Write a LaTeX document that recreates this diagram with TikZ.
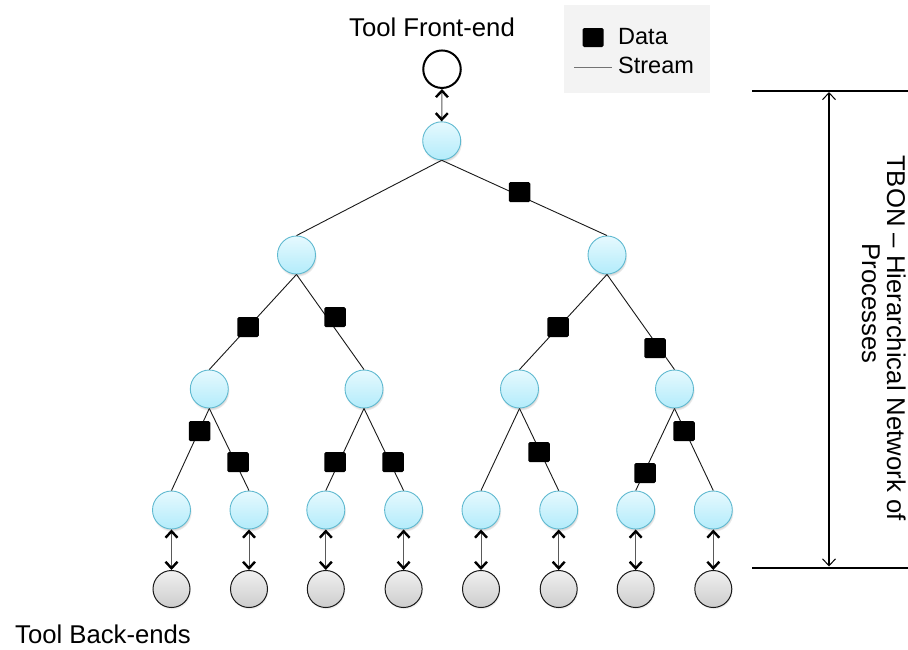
\documentclass[tikz,border=0pt]{standalone}
\usepackage{fontspec}
\setmainfont{Liberation Sans}
\usetikzlibrary{arrows.meta,shapes.geometric,shadows}

\definecolor{proctop}{HTML}{E6F9FE}
\definecolor{procbot}{HTML}{B3ECFB}
\definecolor{procedge}{HTML}{5FB9D0}
\definecolor{betop}{HTML}{F0F0F0}
\definecolor{bebot}{HTML}{CDCDCD}
\definecolor{legendbg}{HTML}{F3F3F3}

\tikzset{
  proc/.style={circle, minimum size=38pt, inner sep=0pt, draw=procedge,
    line width=0.9pt, top color=proctop, bottom color=procbot,
    circular drop shadow={shadow xshift=0.6pt, shadow yshift=-2pt,
      shadow scale=1.04, opacity=0.35}},
  backend/.style={circle, minimum size=37pt, inner sep=0pt, draw=black!90,
    line width=1pt, top color=betop, bottom color=bebot,
    circular drop shadow={shadow xshift=0.5pt, shadow yshift=-1.5pt,
      shadow scale=1.03, opacity=0.25}},
  frontend/.style={circle, minimum size=37.5pt, inner sep=0pt, draw=black,
    line width=2pt, fill=white},
  packet/.style={rectangle, minimum width=21.5pt, minimum height=20pt,
    inner sep=0pt, fill=black, rounded corners=1.5pt},
  stream/.style={draw=black!90, line width=0.9pt},
  link/.style={draw=black!65, line width=1pt,
    >={Straight Barb[color=black, length=6.5pt, width=12pt, line width=2.4pt]}, <->},
  span/.style={draw=black, line width=2pt,
    >={Straight Barb[color=black, length=7pt, width=13pt, line width=1pt]}, <->},
  rule/.style={draw=black, line width=2pt},
  lbltext/.style={font=\fontsize{25.7pt}{30pt}\selectfont, inner sep=0pt},
  legtext/.style={font=\fontsize{23.5pt}{28pt}\selectfont, inner sep=0pt, anchor=base west},
}

\begin{document}
\begin{tikzpicture}[x=1pt, y=-1pt]
\useasboundingbox (0,0) rectangle (908,649);

% legend
\node[fill=legendbg, minimum width=146pt, minimum height=88pt, inner sep=0pt,
      anchor=north west] (legend) at (564,5) {};
\node[packet, minimum width=21pt, minimum height=19pt] (legpacket) at (593,37.5) {};
\node[legtext] (legdata) at (618,44) {Data};
\node[legtext] (legstream) at (618,73) {Stream};
\coordinate (legA) at (574,67);
\coordinate (legB) at (612,67);
\draw[draw=black!55, line width=1pt] (legA) -- (legB);

% front-end and root
\node[lbltext, anchor=base] (felabel) at (432,36) {Tool Front-end};
\node[frontend] (fe) at (442,69.2) {};
\node[proc] (r) at (441.7,140.8) {};

% internal levels
\node[proc] (a) at (296.5,255) {};
\node[proc] (b) at (607,255) {};
\node[proc] (aa) at (209.3,389) {};
\node[proc] (ab) at (364,389) {};
\node[proc] (ba) at (519.5,389) {};
\node[proc] (bb) at (674.5,389) {};

% leaf processes and back-ends
\foreach \i/\x in {1/171.5, 2/249, 3/325.8, 4/403.6, 5/481, 6/558.7, 7/635.7, 8/713.3} {
  \node[proc] (l\i) at (\x,510) {};
  \node[backend] (be\i) at (\x,589) {};
}

\node[lbltext, anchor=base] (belabel) at (103,643) {Tool Back-ends};

% tree streams
\draw[stream] (r.south) -- (a.north);
\draw[stream] (r.south) -- (b.north);
\draw[stream] (a.south) -- (aa.north);
\draw[stream] (a.south) -- (ab.north);
\draw[stream] (b.south) -- (ba.north);
\draw[stream] (b.south) -- (bb.north);
\draw[stream] (aa.south) -- (l1.north);
\draw[stream] (aa.south) -- (l2.north);
\draw[stream] (ab.south) -- (l3.north);
\draw[stream] (ab.south) -- (l4.north);
\draw[stream] (ba.south) -- (l5.north);
\draw[stream] (ba.south) -- (l6.north);
\draw[stream] (bb.south) -- (l7.north);
\draw[stream] (bb.south) -- (l8.north);

% bidirectional links
\draw[link] (fe.south) -- (r.north);
\foreach \i in {1,...,8} {
  \draw[link] (l\i.south) -- (be\i.north);
}

% data packets on the streams
\node[packet] (p0) at (519.5,192) {};
\node[packet] (p1) at (248,327) {};
\node[packet] (p2) at (335,317) {};
\node[packet] (p3) at (558,327) {};
\node[packet] (p4) at (655,348) {};
\node[packet] (p5) at (199.5,431) {};
\node[packet] (p6) at (238,462) {};
\node[packet] (p7) at (335,462) {};
\node[packet] (p8) at (393,462) {};
\node[packet] (p9) at (539,452) {};
\node[packet] (p10) at (684,431) {};
\node[packet] (p11) at (645,473) {};

% TBON extent
\coordinate (topL) at (752,91);
\coordinate (topR) at (908,91);
\coordinate (botL) at (752,567.5);
\coordinate (botR) at (908,567.5);
\coordinate (spanT) at (829,92);
\coordinate (spanB) at (829,566.5);
\draw[rule] (topL) -- (topR);
\draw[rule] (botL) -- (botR);
\draw[span] (spanT) -- (spanB);

\node[lbltext, rotate=-90, anchor=base] (tbon1) at (887,338) {TBON – Hierarchical Network of};
\node[lbltext, rotate=-90, anchor=base] (tbon2) at (862,303.5) {Processes};
\end{tikzpicture}
\end{document}
